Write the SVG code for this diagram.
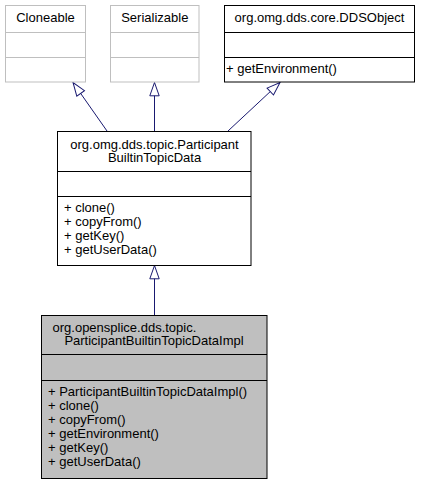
<svg xmlns="http://www.w3.org/2000/svg" width="424" height="485" viewBox="0 0 424 485">
<style>
text{font-family:"Liberation Sans",Arial,Helvetica,sans-serif;font-size:13px;fill:#000}
.c{text-anchor:middle}
.box{fill:#fff;stroke:#000;stroke-width:1}
.ext{fill:#fff;stroke:#bfbfbf;stroke-width:1}
.sel{fill:#bfbfbf;stroke:#000;stroke-width:1}
.dl{stroke:#000;stroke-width:1}
.dg{stroke:#bfbfbf;stroke-width:1}
.edge{stroke:#191970;stroke-width:1;fill:none;marker-end:url(#tri)}
</style>
<defs>
<marker id="tri" markerUnits="userSpaceOnUse" markerWidth="16" markerHeight="12" refX="13.8" refY="5.7" orient="auto" overflow="visible">
<path d="M0.5,1 L13.8,5.7 L0.5,10.4 Z" fill="#fff" stroke="#191970" stroke-width="1"/>
</marker>
</defs>
<rect width="424" height="485" fill="#fff"/>
<g id="connectors">
<line class="edge" x1="154.5" y1="315" x2="154.5" y2="265.5"/>
<line class="edge" x1="107" y1="131" x2="73" y2="82.5"/>
<line class="edge" x1="154.5" y1="131" x2="154.5" y2="82.5"/>
<line class="edge" x1="228" y1="131" x2="280" y2="82.5"/>
</g>
<g id="cloneable">
<rect class="ext" x="5.5" y="5.5" width="80" height="76.5"/>
<line class="dg" x1="5.5" y1="32.5" x2="85.5" y2="32.5"/>
<line class="dg" x1="5.5" y1="57.5" x2="85.5" y2="57.5"/>
<text class="c" x="45.5" y="22">Cloneable</text>
</g>
<g id="serializable">
<rect class="ext" x="110.5" y="5.5" width="88.5" height="76.5"/>
<line class="dg" x1="110.5" y1="32.5" x2="199" y2="32.5"/>
<line class="dg" x1="110.5" y1="57.5" x2="199" y2="57.5"/>
<text class="c" x="154.8" y="22">Serializable</text>
</g>
<g id="ddsobject">
<rect class="box" x="224.5" y="5.5" width="190" height="76.5"/>
<line class="dl" x1="224.5" y1="32.5" x2="414.5" y2="32.5"/>
<line class="dl" x1="224.5" y1="57.5" x2="414.5" y2="57.5"/>
<text class="c" x="319.5" y="22">org.omg.dds.core.DDSObject</text>
<text x="226" y="73">+ getEnvironment()</text>
</g>
<g id="participantbuiltintopicdata">
<rect class="box" x="57.5" y="131.5" width="193.5" height="134"/>
<line class="dl" x1="57.5" y1="171.5" x2="251" y2="171.5"/>
<line class="dl" x1="57.5" y1="196.5" x2="251" y2="196.5"/>
<text class="c" x="154.5" y="148.5">org.omg.dds.topic.Participant<tspan x="154.5" dy="13">BuiltinTopicData</tspan></text>
<text x="64" y="212">+ clone()<tspan x="64" dy="14">+ copyFrom()</tspan><tspan x="64" dy="14">+ getKey()</tspan><tspan x="64" dy="14">+ getUserData()</tspan></text>
</g>
<g id="participantbuiltintopicdataimpl">
<rect class="sel" x="41.5" y="315.5" width="225.5" height="163"/>
<line class="dl" x1="41.5" y1="354.5" x2="267" y2="354.5"/>
<line class="dl" x1="41.5" y1="380.5" x2="267" y2="380.5"/>
<text x="52.5" y="332">org.opensplice.dds.topic.<tspan class="c" x="154" dy="12.5">ParticipantBuiltinTopicDataImpl</tspan></text>
<text x="48" y="395.5">+ ParticipantBuiltinTopicDataImpl()<tspan x="48" dy="14">+ clone()</tspan><tspan x="48" dy="14.5">+ copyFrom()</tspan><tspan x="48" dy="14">+ getEnvironment()</tspan><tspan x="48" dy="14">+ getKey()</tspan><tspan x="48" dy="14">+ getUserData()</tspan></text>
</g>
</svg>
